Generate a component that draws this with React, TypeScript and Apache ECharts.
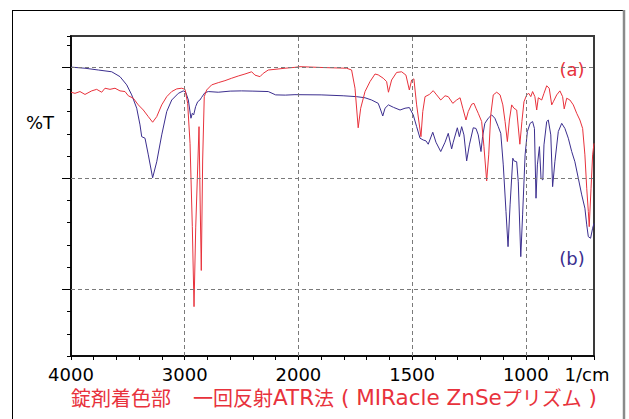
import React, { useEffect, useRef } from 'react';
import * as echarts from 'echarts';

// ---- data (wavenumber in 1/cm, transmittance in arbitrary %T units) ----
const aWavenumber = [
  4000, 3965, 3921, 3877, 3818, 3774, 3730, 3701, 3657, 3613, 3569, 3525, 3496, 3452, 3408, 3364,
  3320, 3282, 3246, 3202, 3158, 3114, 3070, 3026, 2997, 2974, 2953, 2933, 2918, 2903, 2874, 2863,
  2854, 2842, 2828, 2807, 2763, 2705, 2646, 2587, 2529, 2470, 2411, 2382, 2338, 2309, 2265, 2206,
  2118, 2030, 1993, 1890, 1788, 1766, 1751, 1737, 1726, 1707, 1685, 1663, 1649, 1627, 1612, 1604,
  1590, 1568, 1546, 1527, 1512, 1502, 1492, 1480, 1461, 1453, 1443, 1424, 1407, 1392, 1374, 1355,
  1341, 1321, 1304, 1289, 1277, 1263, 1253, 1238, 1228, 1219, 1209, 1194, 1184, 1172, 1163, 1154,
  1143, 1128, 1113, 1101, 1091, 1081, 1072, 1062, 1052, 1040, 1026, 1017, 1008, 996, 987, 978,
  970, 960, 952, 945, 930, 920, 908, 897, 886, 879, 864, 850, 838, 831, 820, 806,
  791, 776, 762, 750, 740, 732, 725, 721, 713, 706, 700,
];
const aTransmittance = [
  88.7, 88.2, 89, 87.7, 89.3, 90, 88.7, 90.5, 90, 90.5, 89.3, 89, 87.1, 86, 83, 80.7,
  77.7, 75.2, 77.7, 83, 86.7, 89, 90.2, 90.5, 90, 83.7, 65.7, 28.2, -7.8, 28, 73.2, 35.7,
  8.5, 58.2, 86.7, 89.7, 92, 93, 93.9, 95, 96, 96.9, 97.9, 96.4, 95.7, 97.2, 98.7, 99,
  99.5, 99.9, 100.2, 99.8, 99.5, 98.7, 90.5, 72.7, 81.5, 89, 93.5, 96.9, 96.5, 95, 93.5, 88.7,
  94.2, 97.6, 97.9, 96.4, 89.7, 94.2, 94.7, 83, 68.7, 80, 86.7, 87.7, 89.4, 87.5, 85.2, 87.1,
  86.7, 83.7, 85.2, 86.2, 81.5, 76.2, 80, 83.3, 83.7, 81.5, 79.2, 75.5, 64.2, 48.8, 60.5, 78.5,
  87.5, 88.7, 87.5, 83, 75.5, 66.5, 76.2, 83, 81.5, 80.7, 65.3, 75.5, 84.4, 87.5, 88.2, 86.7,
  89, 86.7, 80.7, 86.2, 85.2, 88.2, 91.6, 90.5, 83, 84.4, 87.5, 89.3, 86.7, 81.2, 86, 85.2,
  83, 79.2, 76.2, 72.4, 60.5, 45.5, 35, 28.2, 45.5, 60.5, 65.7,
];

const bWavenumber = [
  4000, 3877, 3760, 3642, 3569, 3510, 3466, 3422, 3393, 3378, 3349, 3320, 3282, 3246, 3202, 3158,
  3114, 3056, 3012, 2991, 2968, 2945, 2933, 2921, 2904, 2886, 2866, 2851, 2822, 2792, 2705, 2600,
  2500, 2400, 2265, 2200, 2115, 2030, 1900, 1803, 1744, 1707, 1678, 1649, 1638, 1629, 1619, 1604,
  1582, 1553, 1531, 1512, 1495, 1480, 1465, 1451, 1439, 1429, 1409, 1395, 1374, 1355, 1341, 1326,
  1319, 1301, 1292, 1282, 1272, 1260, 1248, 1231, 1219, 1209, 1197, 1190, 1180, 1165, 1150, 1136,
  1121, 1110, 1099, 1087, 1078, 1069, 1057, 1052, 1040, 1033, 1022, 1014, 1003, 993, 981, 970,
  962, 955, 949, 940, 933, 925, 920, 908, 901, 890, 882, 872, 857, 842, 828, 813,
  798, 784, 769, 754, 740, 732, 725, 715, 706, 700,
];
const bTransmittance = [
  100, 99.5, 98.7, 97.9, 95.7, 92, 87.5, 81.5, 74, 68.7, 68, 60.5, 50.2, 57.4, 69.5, 80,
  85.2, 88.2, 89.3, 88.7, 85.2, 77, 79.2, 78.5, 82.2, 84.4, 85.2, 86.4, 88.5, 89, 88.7, 89.2,
  89.3, 89.2, 89, 87.5, 87.4, 87.6, 87.5, 87.1, 86.7, 86.2, 85.2, 83.7, 80.7, 78, 81.5, 83,
  81.9, 80.7, 81.5, 81.8, 78.5, 73.2, 68, 67.2, 66.8, 65.3, 70.7, 66.2, 62, 66.2, 70.2, 63.2,
  66.2, 72.7, 68.7, 73.2, 69.5, 57.8, 65, 72.7, 72.4, 69.5, 62, 68.7, 74.7, 77, 78.5, 77,
  73.2, 70.2, 56, 35, 19.2, 38, 59, 57.8, 57.4, 48.4, 14.7, 33.5, 60.5, 71, 74.7, 75.5,
  72.4, 41, 56, 64.2, 50, 49.2, 65, 75.5, 76.2, 69.5, 46.2, 57.4, 71, 74.7, 72.4, 68,
  62, 57.4, 50, 42.5, 36.5, 29, 23.7, 23, 27.5, 29.7,
];

const xTickLabels = ['4000', '3000', '2000', '1500', '1000'];
const xUnitLabel = '1/cm';
const xGridWavenumbers = [3000, 2000, 1500, 1000];
const yMajorValues = [0, 50, 100];
const yAxisLabel = '%T';
const seriesALabel = '(a)';
const seriesBLabel = '(b)';
// caption pieces: [text, kind] where kind 'j' = Japanese glyphs, 'l' = Latin glyphs
const captionParts: [string, string][] = [
  ['錠剤着色部', 'j'],
  ['　', 's'],
  ['一回反射', 'j'],
  ['ATR', 'l'],
  ['法', 'j'],
  [' ( MIRacle ZnSe', 'l'],
  ['プリズム', 'j'],
  [' )', 'l'],
];

// ---- axis transform: 4000-2000 at 1 unit / 1000, 2000-700 expanded (1 unit / 500) ----
const WN_MAX = 4000;
const WN_BREAK = 2000;
const WN_MIN = 700;
function toAxis(wn: number): number {
  return wn >= WN_BREAK ? (WN_MAX - wn) / 1000 : 2 + (WN_BREAK - wn) / 500;
}
function fromAxis(u: number): number {
  return u <= 2 ? WN_MAX - u * 1000 : WN_BREAK - (u - 2) * 500;
}

const FONT = "'DejaVu Sans', Verdana, sans-serif";
const CJK_FONT = "'Noto Sans CJK JP', 'Noto Sans CJK SC', sans-serif";
const RED = '#e8323c';
const BLUE = '#3b2e8e';

export default function App() {
  const ref = useRef<HTMLDivElement>(null);

  useEffect(() => {
    const chart = echarts.init(ref.current!, null, { renderer: 'svg' });
    const xMax = toAxis(WN_MIN);

    const captionText = captionParts.map(([t, k]) => '{' + k + '|' + t + '}').join('');

    const option: any = {
      animation: false,
      backgroundColor: '#fff',
      grid: {
        left: 71,
        right: 35,
        top: 36,
        bottom: 63,
        show: true,
        borderColor: '#3a3a3a',
        borderWidth: 2,
        backgroundColor: 'transparent',
      },
      xAxis: {
        type: 'value',
        min: 0,
        max: xMax,
        interval: 0.2,
        axisLine: { show: true, onZero: false, lineStyle: { color: '#000', width: 1.5 } },
        axisTick: { show: true, length: 4, lineStyle: { color: '#000', width: 1 } },
        splitLine: { show: false },
        axisLabel: {
          margin: 10,
          color: '#000',
          fontSize: 18,
          lineHeight: 17,
          fontFamily: FONT,
          formatter: (v: number) => {
            if (Math.abs(v - xMax) < 1e-6) return '{u|' + xUnitLabel + '}';
            if (Math.abs(v - Math.round(v)) > 1e-6) return '';
            const wn = String(Math.round(fromAxis(v)));
            return xTickLabels.includes(wn) ? wn : '';
          },
          rich: {
            u: { fontSize: 18, lineHeight: 17, fontFamily: FONT, color: '#000', padding: [0, 14, 0, 0] },
          },
        },
      },
      yAxis: [
        {
          type: 'value',
          min: -30,
          max: 114,
          interval: 10,
          position: 'left',
          axisLine: { show: true, onZero: false, lineStyle: { color: '#000', width: 1.5 } },
          axisTick: { show: true, length: 4, lineStyle: { color: '#000', width: 1 } },
          axisLabel: { show: false },
          splitLine: { show: false },
        },
        {
          type: 'value',
          min: -30,
          max: 114,
          position: 'left',
          axisLine: { show: false },
          axisTick: {
            show: true,
            length: 9,
            customValues: yMajorValues,
            lineStyle: { color: '#000', width: 1 },
          },
          axisLabel: { show: false, customValues: yMajorValues },
          splitLine: { show: false },
        },
      ],
      series: [
        {
          type: 'line',
          name: 'b',
          data: bWavenumber.map((w, i) => [toAxis(w), bTransmittance[i]]),
          symbol: 'none',
          showSymbol: false,
          lineStyle: { color: BLUE, width: 1 },
          z: 3,
          markLine: {
            silent: true,
            symbol: 'none',
            label: { show: false },
            lineStyle: { color: '#7a7a7a', type: [4, 3], width: 1 },
            data: [
              ...xGridWavenumbers.map((w) => ({ xAxis: toAxis(w) })),
              ...yMajorValues.map((v) => ({ yAxis: v })),
            ],
          },
        },
        {
          type: 'line',
          name: 'a',
          data: aWavenumber.map((w, i) => [toAxis(w), aTransmittance[i]]),
          symbol: 'none',
          showSymbol: false,
          lineStyle: { color: RED, width: 1 },
          z: 4,
        },
      ],
      graphic: [
        { type: 'line', shape: { x1: 12, y1: 10.5, x2: 625, y2: 10.5 }, style: { stroke: '#000', lineWidth: 1 } },
        { type: 'line', shape: { x1: 12.5, y1: 10, x2: 12.5, y2: 419 }, style: { stroke: '#000', lineWidth: 1 } },
        { type: 'line', shape: { x1: 624, y1: 10, x2: 624, y2: 419 }, style: { stroke: '#8a8a8a', lineWidth: 2.5 } },
        {
          type: 'text',
          x: 26,
          y: 122,
          style: { text: yAxisLabel, fill: '#000', fontSize: 18, fontFamily: FONT, align: 'left', verticalAlign: 'middle' },
        },
        {
          type: 'text',
          x: 572,
          y: 69,
          style: { text: seriesALabel, fill: RED, fontSize: 18, fontFamily: FONT, align: 'center', verticalAlign: 'middle' },
        },
        {
          type: 'text',
          x: 572,
          y: 258,
          style: { text: seriesBLabel, fill: BLUE, fontSize: 18, fontFamily: FONT, align: 'center', verticalAlign: 'middle' },
        },
        {
          type: 'text',
          x: 71,
          y: 397.5,
          style: {
            text: captionText,
            fill: RED,
            align: 'left',
            verticalAlign: 'middle',
            rich: {
              j: { fontSize: 20, fontFamily: CJK_FONT, fill: RED, lineHeight: 21, verticalAlign: 'middle' },
              s: { fontSize: 22, fontFamily: CJK_FONT, fill: RED, lineHeight: 21, verticalAlign: 'middle' },
              l: { fontSize: 21.5, fontFamily: FONT, fill: RED, lineHeight: 21, verticalAlign: 'middle' },
            },
          },
        },
      ],
    };

    chart.setOption(option);
    return () => chart.dispose();
  }, []);

  return (
    <div
      ref={ref}
      style={{ position: 'fixed', left: 0, top: 0, width: 629, height: 419, background: '#fff' }}
    />
  );
}
